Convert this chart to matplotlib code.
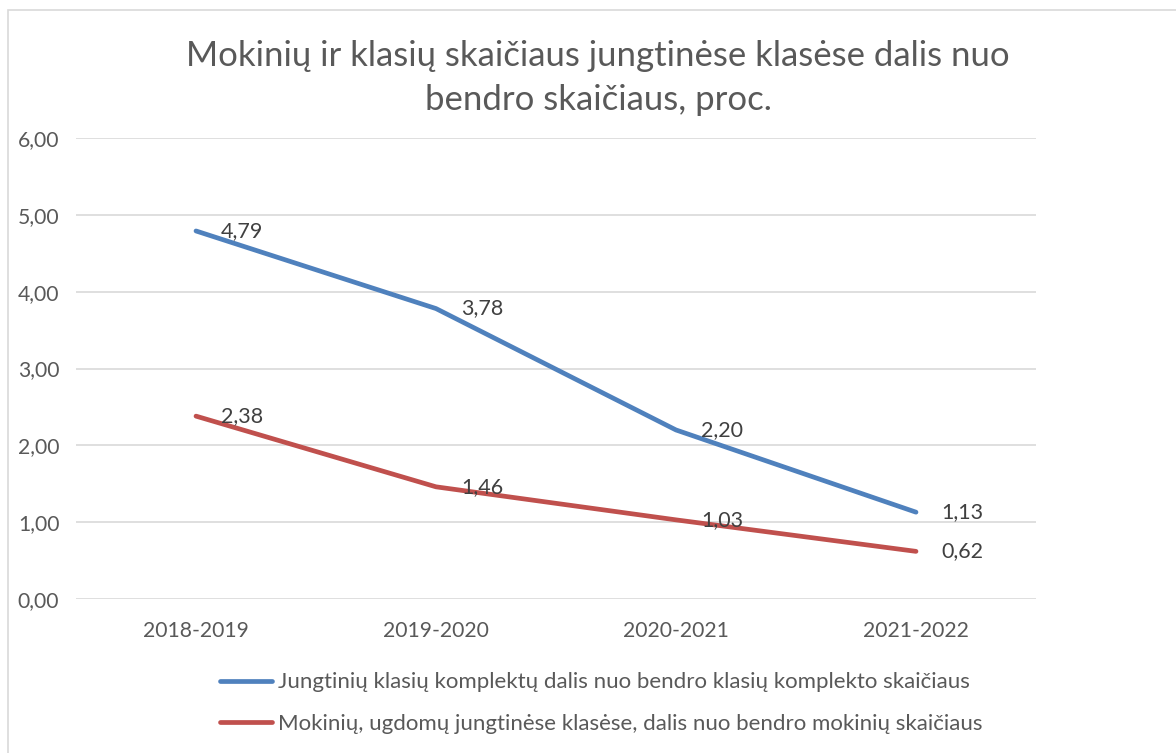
import matplotlib
matplotlib.use("Agg")
import matplotlib.pyplot as plt
from matplotlib.patches import Rectangle
from matplotlib.lines import Line2D

categories = ["2018-2019", "2019-2020", "2020-2021", "2021-2022"]
series1_name = "Jungtinių klasių komplektų dalis nuo bendro klasių komplekto skaičiaus"
series2_name = "Mokinių, ugdomų jungtinėse klasėse, dalis nuo bendro mokinių skaičiaus"
series1 = [4.79, 3.78, 2.20, 1.13]
series2 = [2.38, 1.46, 1.03, 0.62]
yticks = [0, 1, 2, 3, 4, 5, 6]
title = "Mokinių ir klasių skaičiaus jungtinėse klasėse dalis nuo\nbendro skaičiaus, proc."

plt.rcParams['font.family'] = ['Lato', 'DejaVu Sans']
txt = '#595959'
blue = '#4F81BD'
red = '#C0504D'

W, H = 1176, 753
fig = plt.figure(figsize=(W/100, H/100), dpi=100)
fig.patch.set_facecolor('white')

# chart border
fig.add_artist(Rectangle((8/W, -0.01), 1.2, 1 - 10/H + 0.01, transform=fig.transFigure,
                         fill=False, edgecolor='#D9D9D9', linewidth=1.2))

ax = fig.add_axes([76/W, 1 - 599/H, 960/W, (599-138)/H])
x = list(range(len(categories)))
ax.plot(x, series1, color=blue, linewidth=3.4, solid_capstyle='round', zorder=3)
ax.plot(x, series2, color=red, linewidth=3.4, solid_capstyle='round', zorder=3)

for xi, v in zip(x, series1):
    ax.annotate(f"{v:.2f}".replace('.', ','), (xi, v), xytext=(18, 0),
                textcoords='offset points', va='center', ha='left', fontsize=15.5, color='#404040', zorder=4)
for xi, v in zip(x, series2):
    ax.annotate(f"{v:.2f}".replace('.', ','), (xi, v), xytext=(18, 0),
                textcoords='offset points', va='center', ha='left', fontsize=15.5, color='#404040', zorder=4)

ax.set_xlim(-0.5, 3.5)
ax.set_ylim(0, 6)
ax.set_yticks(yticks)
ax.set_yticklabels([f"{t:.2f}".replace('.', ',') for t in yticks])
ax.set_xticks(x)
ax.set_xticklabels(categories)
ax.tick_params(axis='both', length=0, labelsize=15.2, labelcolor=txt)
ax.tick_params(axis='y', pad=12)
ax.tick_params(axis='x', pad=16)
ax.grid(axis='y', color='#D9D9D9', linewidth=1.2)
ax.set_axisbelow(True)
for s in ax.spines.values():
    s.set_visible(False)
ax.set_facecolor('none')

fig.text(598/W, 1 - 78/H, title, ha='center', va='center', fontsize=25, color=txt, linespacing=1.45)

handles = [Line2D([], [], color=blue, linewidth=3.4, solid_capstyle='round'),
           Line2D([], [], color=red, linewidth=3.4, solid_capstyle='round')]
leg = fig.legend(handles, [series1_name, series2_name], loc='center left',
                 bbox_to_anchor=(200/W, 1 - 703/H), frameon=False, fontsize=16,
                 labelcolor=txt, handlelength=2.35, handletextpad=0.25, labelspacing=0.95)

fig.savefig("out.png", dpi=100)
